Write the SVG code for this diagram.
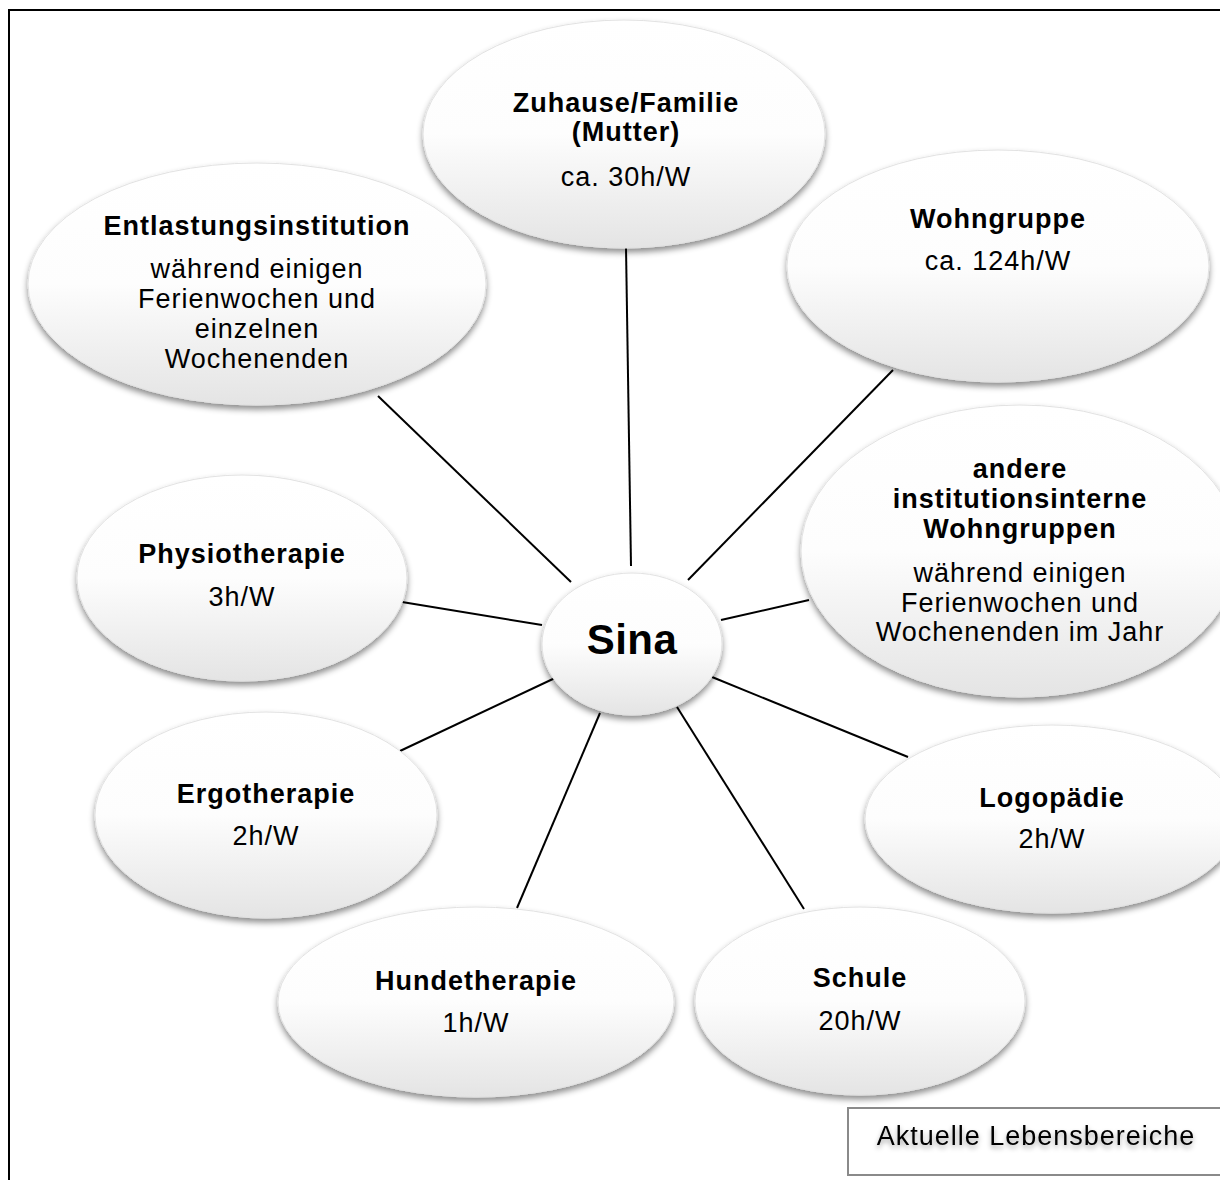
<svg xmlns="http://www.w3.org/2000/svg" width="1220" height="1180" viewBox="0 0 1220 1180">
<defs>
<linearGradient id="g" x1="0" y1="0" x2="0" y2="1">
<stop offset="0" stop-color="#ffffff"/>
<stop offset="0.5" stop-color="#fdfdfd"/>
<stop offset="1" stop-color="#e4e4e4"/>
</linearGradient>
<filter id="sh" x="-10%" y="-10%" width="120%" height="130%">
<feDropShadow dx="0" dy="4" stdDeviation="3" flood-color="#000" flood-opacity="0.45"/>
</filter>
<filter id="tsh" x="-10%" y="-30%" width="120%" height="170%">
<feDropShadow dx="0" dy="3" stdDeviation="2.5" flood-color="#000" flood-opacity="0.35"/>
</filter>
<style>
.n ellipse{fill:url(#g);stroke:#e2e2e2;stroke-width:1;filter:url(#sh)}
.n text{font-family:"Liberation Sans",Arial,sans-serif;font-size:27px;letter-spacing:1px;fill:#000;text-anchor:middle}
.n text.b{font-weight:bold}
#conn line{stroke:#000;stroke-width:2}
</style>
</defs>
<rect x="0" y="0" width="1220" height="1180" fill="#fff"/>
<rect x="9" y="10" width="1260" height="1260" fill="none" stroke="#000" stroke-width="2"/>

<g id="conn">
<line x1="626" y1="248" x2="631" y2="566"/>
<line x1="893" y1="370" x2="688" y2="580"/>
<line x1="378" y1="396" x2="571" y2="582"/>
<line x1="809" y1="600" x2="721" y2="620"/>
<line x1="402" y1="602" x2="542" y2="625"/>
<line x1="400" y1="751" x2="555" y2="678"/>
<line x1="908" y1="757" x2="712" y2="677"/>
<line x1="804" y1="909" x2="677" y2="707"/>
<line x1="517" y1="908" x2="600" y2="713"/>
</g>

<g id="entlastung" class="n">
<ellipse cx="257" cy="284" rx="229" ry="121"/>
<text class="b" x="257" y="235">Entlastungsinstitution</text>
<text x="257" y="278">während einigen</text>
<text x="257" y="308">Ferienwochen und</text>
<text x="257" y="338">einzelnen</text>
<text x="257" y="368">Wochenenden</text>
</g>

<g id="wohngruppe" class="n">
<ellipse cx="998" cy="266" rx="211" ry="116"/>
<text class="b" x="998" y="228">Wohngruppe</text>
<text x="998" y="270">ca. 124h/W</text>
</g>

<g id="zuhause" class="n">
<ellipse cx="624" cy="134" rx="201" ry="114"/>
<text class="b" x="626" y="112">Zuhause/Familie</text>
<text class="b" x="626" y="141">(Mutter)</text>
<text x="626" y="186">ca. 30h/W</text>
</g>

<g id="andere" class="n">
<ellipse cx="1020" cy="551" rx="219" ry="146"/>
<text class="b" x="1020" y="478">andere</text>
<text class="b" x="1020" y="508">institutionsinterne</text>
<text class="b" x="1020" y="538">Wohngruppen</text>
<text x="1020" y="582">während einigen</text>
<text x="1020" y="612">Ferienwochen und</text>
<text x="1020" y="641">Wochenenden im Jahr</text>
</g>

<g id="physio" class="n">
<ellipse cx="242" cy="578" rx="165" ry="103"/>
<text class="b" x="242" y="563">Physiotherapie</text>
<text x="242" y="606">3h/W</text>
</g>

<g id="ergo" class="n">
<ellipse cx="266" cy="815" rx="171" ry="103"/>
<text class="b" x="266" y="803">Ergotherapie</text>
<text x="266" y="845">2h/W</text>
</g>

<g id="logo" class="n">
<ellipse cx="1052" cy="819" rx="187" ry="94"/>
<text class="b" x="1052" y="807">Logopädie</text>
<text x="1052" y="848">2h/W</text>
</g>

<g id="schule" class="n">
<ellipse cx="860" cy="1001" rx="165" ry="94"/>
<text class="b" x="860" y="987">Schule</text>
<text x="860" y="1030">20h/W</text>
</g>

<g id="hunde" class="n">
<ellipse cx="476" cy="1002" rx="198" ry="95"/>
<text class="b" x="476" y="990">Hundetherapie</text>
<text x="476" y="1032">1h/W</text>
</g>

<g id="sina" class="n">
<ellipse cx="632" cy="644" rx="90" ry="71"/>
<text class="b" x="632" y="654" style="font-size:42px;letter-spacing:0.5px">Sina</text>
</g>

<g id="legende">
<rect x="848" y="1108" width="400" height="67" fill="#fff" stroke="#8a8a8a" stroke-width="2"/>
<text x="1036" y="1145" filter="url(#tsh)" style="font-family:'Liberation Sans',Arial,sans-serif;font-size:27px;letter-spacing:1px;text-anchor:middle">Aktuelle Lebensbereiche</text>
</g>
</svg>
